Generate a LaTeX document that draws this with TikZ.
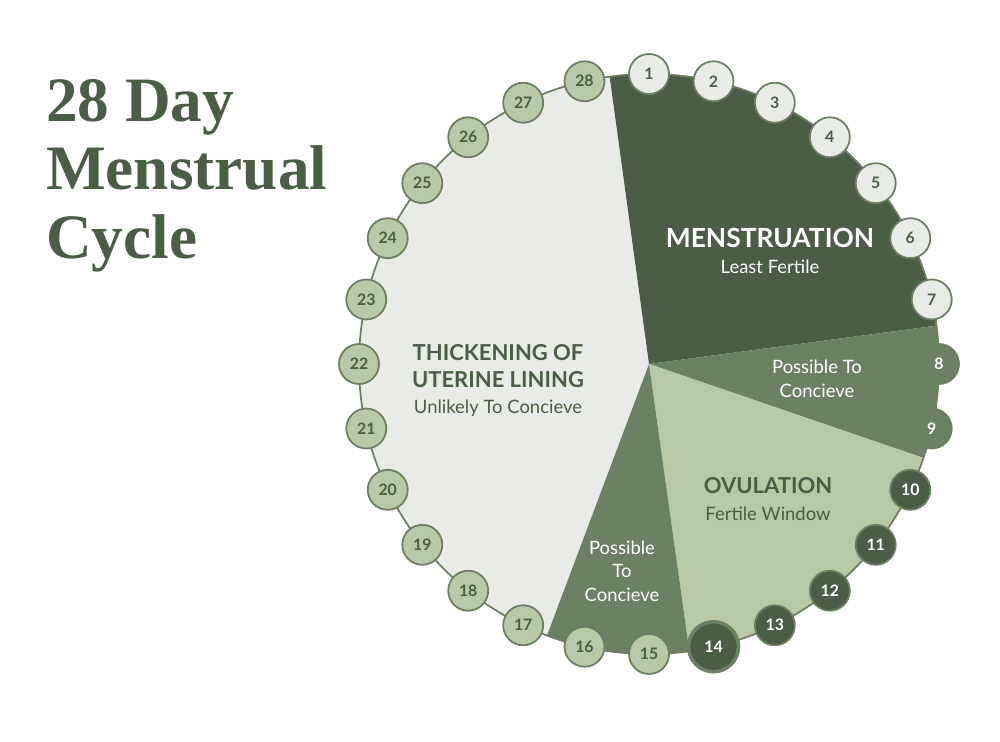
\documentclass[tikz,border=0pt]{standalone}
\usepackage{fontspec}
\setmainfont{Lato}
\newfontfamily\titlefont{Liberation Serif}
\usetikzlibrary{positioning,calc}
\definecolor{darkgr}{HTML}{4A5D45}
\definecolor{midgr}{HTML}{6B8163}
\definecolor{lightgr}{HTML}{B8C9A8}
\definecolor{palegr}{HTML}{E9ECE6}
\definecolor{ringgr}{HTML}{6B7F63}
\tikzset{
  day/.style={circle, draw=ringgr, line width=1pt, minimum size=0.8cm, inner sep=0pt,
    font=\fontsize{9}{9}\selectfont\bfseries, text=darkgr},
  phase/.style={font=\fontsize{15}{17}\selectfont\bfseries, align=center},
  note/.style={font=\fontsize{10.5}{13.5}\selectfont, align=center}
}
\begin{document}
\begin{tikzpicture}[x=0.02cm,y=0.02cm]
  \useasboundingbox (0,0) rectangle (1000,741);
  \coordinate (c) at (649,377);
  % sectors
  \fill[palegr] (c) -- ++(97.8:290) arc[start angle=97.8,end angle=249.4,radius=290] -- cycle;
  \fill[darkgr] (c) -- ++(97.8:290) arc[start angle=97.8,end angle=7.6,radius=290] -- cycle;
  \fill[midgr] (c) -- ++(7.6:290) arc[start angle=7.6,end angle=-18.9,radius=290] -- cycle;
  \fill[lightgr] (c) -- ++(-18.9:290) arc[start angle=-18.9,end angle=-82,radius=290] -- cycle;
  \fill[midgr] (c) -- ++(-82:290) arc[start angle=-82,end angle=-110.6,radius=290] -- cycle;
  \draw[ringgr, line width=1pt] (c) circle[radius=290];
  % days
  \foreach \d in {1,...,28}{
    \pgfmathsetmacro\ang{90-(\d-1)*360/28}
    \ifnum\d<8 \def\fc{palegr}\def\tc{darkgr}\else
    \ifnum\d<10 \def\fc{midgr}\def\tc{white}\else
    \ifnum\d<15 \def\fc{darkgr}\def\tc{white}\else
    \def\fc{lightgr}\def\tc{darkgr}\fi\fi\fi
    \node[day, fill=\fc, text=\tc] (d\d) at ($(c)+(\ang:290)$) {\d};
  }
  \node[day, fill=darkgr, text=white, minimum size=1cm, draw=midgr, line width=2pt] at (d14) {14};
  % labels
  \node[phase, text=white] (mens) at (770,503) {MENSTRUATION};
  \node[note, text=white, below=0pt of mens] {Least Fertile};
  \node[note, text=white] (pos1) at (817,362) {Possible To\\Concieve};
  \node[phase, text=darkgr, font=\fontsize{12.5}{15}\selectfont\bfseries] (ovu) at (768,255) {OVULATION};
  \node[note, text=darkgr, below=0pt of ovu] {Fertile Window};
  \node[note, text=white] (pos2) at (622,170) {Possible\\To\\Concieve};
  \node[phase, text=darkgr, font=\fontsize{12.5}{15}\selectfont\bfseries] (thick) at (498,375) {THICKENING OF\\UTERINE LINING};
  \node[note, text=darkgr, below=0pt of thick] {Unlikely To Concieve};
  % title
  \node[anchor=north west, text=darkgr, align=left,
    font=\titlefont\fontsize{36}{39}\selectfont\bfseries] (title) at (40,668) {28 Day\\Menstrual\\Cycle};
\end{tikzpicture}
\end{document}
